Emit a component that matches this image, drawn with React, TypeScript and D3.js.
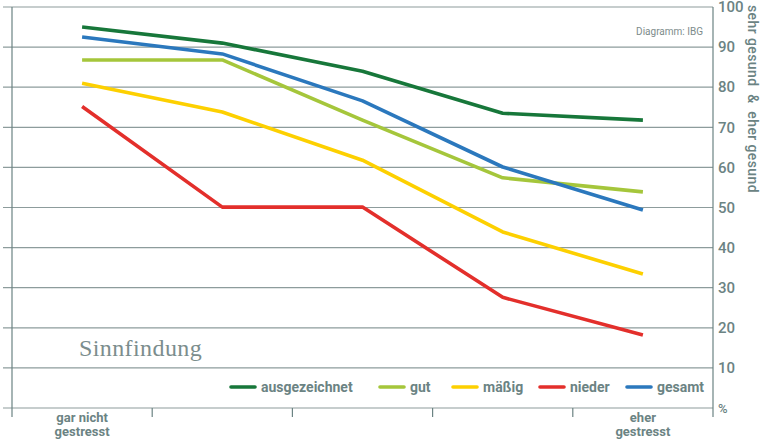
import { useEffect, useRef } from 'react';
import * as d3 from 'd3';

const categories = ['gar nicht\ngestresst', '', '', '', 'eher\ngestresst'];
const seriesNames = ['ausgezeichnet', 'gut', 'mäßig', 'nieder', 'gesamt'];
const ausgezeichnet = [95.0, 91.0, 84.0, 73.5, 71.8];
const gut = [86.8, 86.8, 71.8, 57.4, 53.9];
const maessig = [81.0, 73.8, 61.8, 43.9, 33.4];
const nieder = [75.2, 50.1, 50.1, 27.6, 18.2];
const gesamt = [92.5, 88.3, 76.6, 60.1, 49.4];
const yTicks = [0, 10, 20, 30, 40, 50, 60, 70, 80, 90, 100];
const seriesColors = ['#17773a', '#a5c63b', '#fdd000', '#e32f2b', '#2b78bd'];

export default function App() {
  const svgRef = useRef<SVGSVGElement>(null);

  useEffect(() => {
    if (!svgRef.current) return;
    const svg = d3.select(svgRef.current);
    svg.selectAll('*').remove();

    const width = 763;
    const height = 439;
    const left = 12;
    const right = 713;
    const top = 7;
    const bottom = 408;
    const grey = '#6b8383';
    const font = 'Roboto, "Liberation Sans", sans-serif';

    const x = d3.scaleBand<number>()
      .domain(d3.range(categories.length))
      .range([left, right]);
    const y = d3.scaleLinear().domain([0, 100]).range([bottom, top]);

    svg.attr('width', width).attr('height', height);

    // horizontal grid
    svg.append('g')
      .selectAll('line')
      .data(yTicks)
      .enter().append('line')
      .attr('x1', 3)
      .attr('x2', right)
      .attr('y1', d => y(d))
      .attr('y2', d => y(d))
      .attr('stroke', '#8d9c9c')
      .attr('stroke-width', 1.2);

    // left and right axis lines
    [left, right].forEach(xp => {
      svg.append('line')
        .attr('x1', xp).attr('x2', xp)
        .attr('y1', top).attr('y2', bottom + 9)
        .attr('stroke', grey)
        .attr('stroke-width', 1.2);
    });

    // bottom ticks between categories
    const tickPositions = d3.range(1, categories.length).map(i => x(i) as number);
    svg.append('g')
      .selectAll('line')
      .data(tickPositions)
      .enter().append('line')
      .attr('x1', d => d).attr('x2', d => d)
      .attr('y1', bottom).attr('y2', bottom + 9)
      .attr('stroke', grey)
      .attr('stroke-width', 1.2);

    // right axis labels
    svg.append('g')
      .selectAll('text')
      .data(yTicks)
      .enter().append('text')
      .attr('x', right + 5)
      .attr('y', d => y(d))
      .attr('dy', '0.35em')
      .style('font-family', font)
      .style('font-size', d => (d === 0 ? '13px' : '15px'))
      .style('font-weight', 500)
      .style('fill', grey)
      .text(d => (d === 0 ? '%' : String(d)));

    // vertical axis title
    svg.append('text')
      .attr('transform', `translate(748, 5) rotate(90)`)
      .attr('text-anchor', 'start')
      .style('font-family', font)
      .style('font-size', '14px')
      .style('font-weight', 500)
      .style('letter-spacing', '0.4px')
      .style('fill', grey)
      .attr('xml:space', 'preserve')
      .text('sehr gesund  &  eher gesund');

    // category labels
    categories.forEach((c, i) => {
      if (!c) return;
      const cx = (x(i) as number) + x.bandwidth() / 2;
      const t = svg.append('text')
        .attr('text-anchor', 'middle')
        .style('font-family', font)
        .style('font-size', '13px')
        .style('font-weight', 700)
        .style('fill', grey);
      c.split('\n').forEach((part, j) => {
        t.append('tspan')
          .attr('x', cx)
          .attr('y', 421.5 + j * 14)
          .text(part);
      });
    });

    // source note
    svg.append('text')
      .attr('x', 703)
      .attr('y', 35)
      .attr('text-anchor', 'end')
      .style('font-family', font)
      .style('font-size', '10px')
      .style('fill', '#7d8b8b')
      .text('Diagramm: IBG');

    // chart title
    svg.append('text')
      .attr('x', 79)
      .attr('y', 356)
      .style('font-family', '"Liberation Serif", "DejaVu Serif", serif')
      .style('font-size', '24px')
      .style('letter-spacing', '0.4px')
      .style('fill', '#7b8d8d')
      .text('Sinnfindung');

    // lines
    const allSeries = [ausgezeichnet, gut, maessig, nieder, gesamt];
    const line = d3.line<number>()
      .x((_, i) => (x(i) as number) + x.bandwidth() / 2)
      .y(d => y(d));

    allSeries.forEach((values, k) => {
      svg.append('path')
        .datum(values)
        .attr('fill', 'none')
        .attr('stroke', seriesColors[k])
        .attr('stroke-width', 3.6)
        .attr('stroke-linejoin', 'round')
        .attr('d', line);
    });

    // legend
    const legendX = [231, 380, 453, 540, 627];
    seriesNames.forEach((name, k) => {
      const g = svg.append('g').attr('transform', `translate(${legendX[k]}, 387)`);
      g.append('line')
        .attr('x1', 0).attr('x2', 24)
        .attr('y1', 0).attr('y2', 0)
        .attr('stroke', seriesColors[k])
        .attr('stroke-width', 3.6)
        .attr('stroke-linecap', 'round');
      g.append('text')
        .attr('x', 30)
        .attr('y', 0)
        .attr('dy', '0.35em')
        .style('font-family', font)
        .style('font-size', '14px')
        .style('font-weight', 700)
        .style('fill', grey)
        .text(name);
    });
  }, []);

  return (
    <svg ref={svgRef} style={{ position: 'absolute', left: 0, top: 0, background: '#fff' }} />
  );
}
